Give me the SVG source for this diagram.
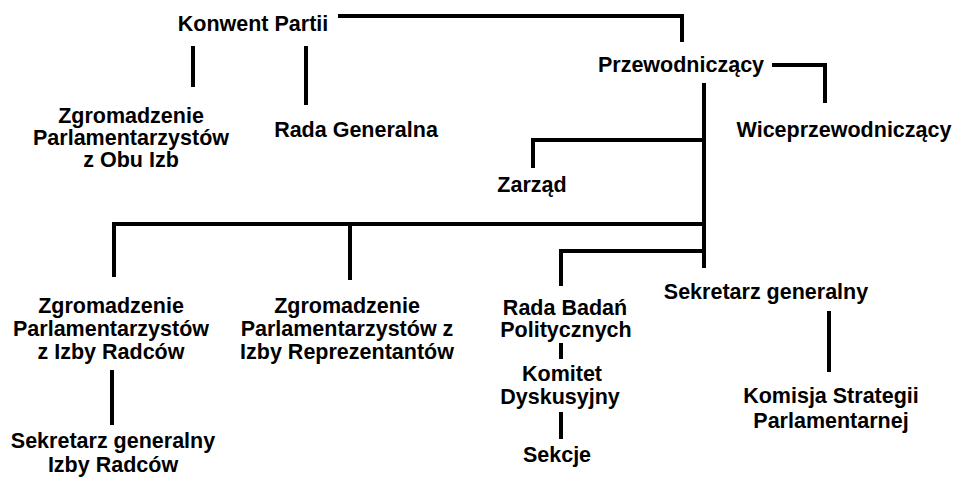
<svg xmlns="http://www.w3.org/2000/svg" width="955" height="477" viewBox="0 0 955 477">
<style>
text{font-family:"Liberation Sans",Arial,sans-serif;font-weight:bold;font-size:21.5px;fill:#000;text-anchor:middle}
.c path{fill:none;stroke:#000;stroke-width:4;stroke-linecap:butt;stroke-linejoin:miter}
</style>
<rect width="955" height="477" fill="#fff"/>
<g class="c" id="connectors">
<path d="M338 16H682V42"/>
<path d="M193 46V87"/>
<path d="M306 46V105"/>
<path d="M772 65H825V103"/>
<path d="M704 83V268"/>
<path d="M704 140H533V168"/>
<path d="M704 224H114V277"/>
<path d="M350 224V280"/>
<path d="M704 251H561V286"/>
<path d="M112 370V425"/>
<path d="M561 343V359"/>
<path d="M561 412V439"/>
<path d="M829 311V372"/>
</g>
<g id="konwent"><text x="253" y="31">Konwent Partii</text></g>
<g id="zgromadzenie-obu"><text x="131" y="123">Zgromadzenie</text><text x="131" y="145">Parlamentarzystów</text><text x="131" y="167">z Obu Izb</text></g>
<g id="rada-generalna"><text x="356" y="137">Rada Generalna</text></g>
<g id="przewodniczacy"><text x="681" y="72">Przewodniczący</text></g>
<g id="wiceprzewodniczacy"><text x="844" y="137">Wiceprzewodniczący</text></g>
<g id="zarzad"><text x="532" y="192">Zarząd</text></g>
<g id="zgromadzenie-radcow"><text x="111" y="313">Zgromadzenie</text><text x="111" y="336">Parlamentarzystów</text><text x="111" y="359">z Izby Radców</text></g>
<g id="sekretarz-radcow"><text x="113" y="448">Sekretarz generalny</text><text x="113" y="472">Izby Radców</text></g>
<g id="zgromadzenie-reprezentantow"><text x="347" y="313">Zgromadzenie</text><text x="347" y="336">Parlamentarzystów z</text><text x="347" y="359">Izby Reprezentantów</text></g>
<g id="rada-badan"><text x="565" y="315">Rada Badań</text><text x="566" y="337">Politycznych</text></g>
<g id="komitet"><text x="562" y="381">Komitet</text><text x="560" y="404">Dyskusyjny</text></g>
<g id="sekcje"><text x="557" y="462">Sekcje</text></g>
<g id="sekretarz"><text x="766" y="299">Sekretarz generalny</text></g>
<g id="komisja"><text x="831" y="403">Komisja Strategii</text><text x="831" y="428">Parlamentarnej</text></g>
</svg>
